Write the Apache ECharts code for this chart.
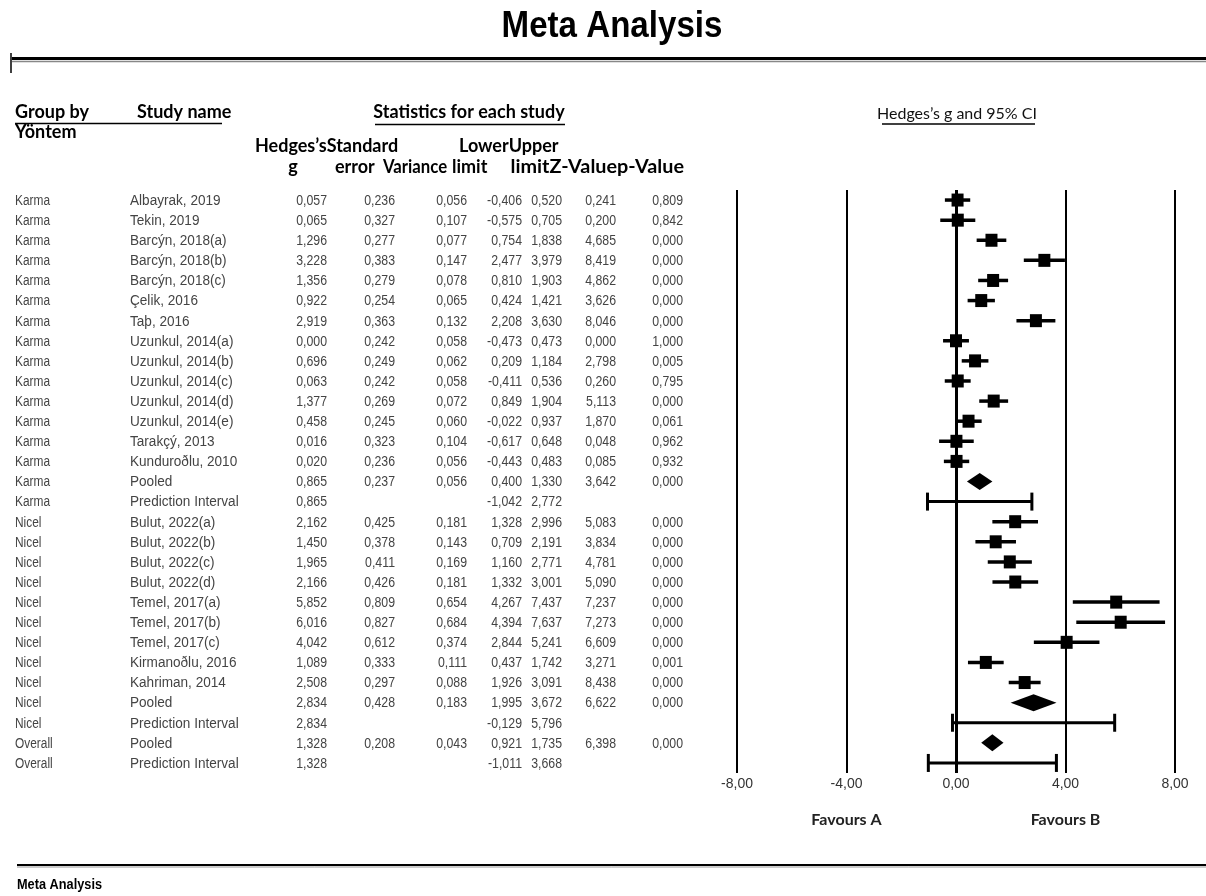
<!DOCTYPE html>
<html>
<head>
<meta charset="utf-8">
<script src="https://cdn.jsdelivr.net/npm/echarts@6/dist/echarts.min.js"></script>
<style>
html,body{margin:0;padding:0;background:#fff;}
#c{width:1206px;height:896px;}
</style>
</head>
<body>
<div id="c"></div>
<script>
// ---------------- DATA ----------------
const groups = ['Karma','Karma','Karma','Karma','Karma','Karma','Karma','Karma','Karma','Karma','Karma','Karma','Karma','Karma','Karma','Karma',
  'Nicel','Nicel','Nicel','Nicel','Nicel','Nicel','Nicel','Nicel','Nicel','Nicel','Nicel','Overall','Overall'];
const studies = ['Albayrak, 2019','Tekin, 2019','Barcýn, 2018(a)','Barcýn, 2018(b)','Barcýn, 2018(c)','Çelik, 2016','Taþ, 2016',
  'Uzunkul, 2014(a)','Uzunkul, 2014(b)','Uzunkul, 2014(c)','Uzunkul, 2014(d)','Uzunkul, 2014(e)','Tarakçý, 2013','Kunduroðlu, 2010',
  'Pooled','Prediction Interval',
  'Bulut, 2022(a)','Bulut, 2022(b)','Bulut, 2022(c)','Bulut, 2022(d)','Temel, 2017(a)','Temel, 2017(b)','Temel, 2017(c)',
  'Kirmanoðlu, 2016','Kahriman, 2014','Pooled','Prediction Interval','Pooled','Prediction Interval'];
const rowKind = ['study','study','study','study','study','study','study','study','study','study','study','study','study','study','pooled','pi',
  'study','study','study','study','study','study','study','study','study','pooled','pi','pooled','pi'];
const hedgesG   = [0.057,0.065,1.296,3.228,1.356,0.922,2.919,0.000,0.696,0.063,1.377,0.458,0.016,0.020,0.865,0.865,
  2.162,1.450,1.965,2.166,5.852,6.016,4.042,1.089,2.508,2.834,2.834,1.328,1.328];
const stdError  = [0.236,0.327,0.277,0.383,0.279,0.254,0.363,0.242,0.249,0.242,0.269,0.245,0.323,0.236,0.237,null,
  0.425,0.378,0.411,0.426,0.809,0.827,0.612,0.333,0.297,0.428,null,0.208,null];
const variance  = [0.056,0.107,0.077,0.147,0.078,0.065,0.132,0.058,0.062,0.058,0.072,0.060,0.104,0.056,0.056,null,
  0.181,0.143,0.169,0.181,0.654,0.684,0.374,0.111,0.088,0.183,null,0.043,null];
const lowerLimit= [-0.406,-0.575,0.754,2.477,0.810,0.424,2.208,-0.473,0.209,-0.411,0.849,-0.022,-0.617,-0.443,0.400,-1.042,
  1.328,0.709,1.160,1.332,4.267,4.394,2.844,0.437,1.926,1.995,-0.129,0.921,-1.011];
const upperLimit= [0.520,0.705,1.838,3.979,1.903,1.421,3.630,0.473,1.184,0.536,1.904,0.937,0.648,0.483,1.330,2.772,
  2.996,2.191,2.771,3.001,7.437,7.637,5.241,1.742,3.091,3.672,5.796,1.735,3.668];
const zValue    = [0.241,0.200,4.685,8.419,4.862,3.626,8.046,0.000,2.798,0.260,5.113,1.870,0.048,0.085,3.642,null,
  5.083,3.834,4.781,5.090,7.237,7.273,6.609,3.271,8.438,6.622,null,6.398,null];
const pValue    = [0.809,0.842,0.000,0.000,0.000,0.000,0.000,1.000,0.005,0.795,0.000,0.061,0.962,0.932,0.000,null,
  0.000,0.000,0.000,0.000,0.000,0.000,0.000,0.001,0.000,0.000,null,0.000,null];
const axisTicks = [-8,-4,0,4,8];
const favourLabels = ['Favours A','Favours B'];

// ---------------- LAYOUT / STYLE ----------------
const BODY_FONT = '14px "Liberation Sans", Arial, sans-serif';
const HEAD_FONT_FAMILY = 'Lato, Calibri, "Open Sans", sans-serif';
const fmt = v => v.toFixed(3).replace('.', ',');
const fmtAxis = v => v.toFixed(2).replace('.', ',');

const tableCols = [
  {arr: groups, x: 15, align: 'left', sx: 0.85},
  {arr: studies, x: 130, align: 'left', sx: 0.97},
  {arr: hedgesG, x: 327, align: 'right', sx: 0.88},
  {arr: stdError, x: 395, align: 'right', sx: 0.88},
  {arr: variance, x: 467, align: 'right', sx: 0.88},
  {arr: lowerLimit, x: 522, align: 'right', sx: 0.88},
  {arr: upperLimit, x: 562, align: 'right', sx: 0.88},
  {arr: zValue, x: 616, align: 'right', sx: 0.88},
  {arr: pValue, x: 683, align: 'right', sx: 0.88}
];

function txt(x, y, text, font, align, opts) {
  opts = opts || {};
  return {
    type: 'text', x: x, y: y, scaleX: opts.scaleX || 1, silent: true,
    style: {text: text, font: font, fill: opts.fill || '#000',
      textAlign: align, align: align, textVerticalAlign: 'middle', verticalAlign: 'middle'}
  };
}
function hline(x1, x2, y, w, color) {
  return {type: 'line', silent: true, shape: {x1: x1, y1: y, x2: x2, y2: y}, style: {stroke: color || '#000', lineWidth: w}};
}
function vline(x, y1, y2, w, color) {
  return {type: 'line', silent: true, shape: {x1: x, y1: y1, x2: x, y2: y2}, style: {stroke: color || '#000', lineWidth: w}};
}

const rowIdx = studies.map((_, i) => String(i));
const studyData = [], pooledData = [], piData = [], tableData = [];
for (let i = 0; i < studies.length; i++) {
  tableData.push([0, i]);
  const item = [hedgesG[i], i, lowerLimit[i], upperLimit[i]];
  if (rowKind[i] === 'study') studyData.push(item);
  else if (rowKind[i] === 'pooled') pooledData.push(item);
  else piData.push(item);
}

function renderStudy(params, api) {
  const i = api.value(1);
  const c = api.coord([api.value(0), i]);
  const lo = api.coord([api.value(2), i]);
  const hi = api.coord([api.value(3), i]);
  return {type: 'group', children: [
    {type: 'line', shape: {x1: lo[0], y1: c[1], x2: hi[0], y2: c[1]}, style: {stroke: '#000', lineWidth: 3.5}},
    {type: 'rect', shape: {x: c[0] - 6, y: c[1] - 6.5, width: 12, height: 13}, style: {fill: '#000'}}
  ]};
}
function renderPooled(params, api) {
  const i = api.value(1);
  const c = api.coord([api.value(0), i]);
  const lo = api.coord([api.value(2), i]);
  const hi = api.coord([api.value(3), i]);
  const h = 8.5;
  return {type: 'polygon', shape: {points: [[lo[0], c[1]], [c[0], c[1] - h], [hi[0], c[1]], [c[0], c[1] + h]]}, style: {fill: '#000'}};
}
function renderPI(params, api) {
  const i = api.value(1);
  const c = api.coord([api.value(0), i]);
  const lo = api.coord([api.value(2), i]);
  const hi = api.coord([api.value(3), i]);
  const h = 9;
  return {type: 'group', children: [
    {type: 'line', shape: {x1: lo[0], y1: c[1], x2: hi[0], y2: c[1]}, style: {stroke: '#000', lineWidth: 3}},
    {type: 'line', shape: {x1: lo[0], y1: c[1] - h, x2: lo[0], y2: c[1] + h}, style: {stroke: '#000', lineWidth: 3}},
    {type: 'line', shape: {x1: hi[0], y1: c[1] - h, x2: hi[0], y2: c[1] + h}, style: {stroke: '#000', lineWidth: 3}}
  ]};
}
function renderTable(params, api) {
  const i = api.value(1);
  const y = api.coord([0, i])[1] + 1;
  const children = [];
  tableCols.forEach(col => {
    const v = col.arr[i];
    if (v === null || v === undefined) return;
    const t = typeof v === 'number' ? fmt(v) : v;
    children.push({type: 'text', x: col.x, y: y, scaleX: col.sx,
      style: {text: t, font: BODY_FONT, fill: '#444', textAlign: col.align, align: col.align,
        textVerticalAlign: 'middle', verticalAlign: 'middle'}});
  });
  return {type: 'group', children: children};
}

const chart = echarts.init(document.getElementById('c'), null, {renderer: 'canvas'});
const GRID = {left: 737, right: 31, top: 190, height: 583};

const hb = s => 'bold ' + s + 'px ' + HEAD_FONT_FAMILY;
const graphics = [
  // title
  txt(612, 27, 'Meta Analysis', 'bold 36px "Liberation Sans", Arial, sans-serif', 'center', {scaleX: 0.92}),
  hline(12, 1206, 58.5, 3, '#000'),
  hline(12, 1206, 61.5, 1.5, '#888'),
  vline(11, 53, 73, 1.5, '#000'),
  // headers
  txt(15, 112, 'Group by', hb(18), 'left'),
  txt(137, 112, 'Study name', hb(18), 'left'),
  hline(15, 222, 123.5, 1.5, '#000'),
  txt(469, 112, 'Statistics for each study', hb(18), 'center'),
  hline(375, 565, 124.5, 1.5, '#000'),
  txt(957, 114, 'Hedges\u2019s g and 95% CI', '16px ' + HEAD_FONT_FAMILY, 'center', {fill: '#111'}),
  hline(882, 1035, 124, 1.5, '#000'),
  txt(15, 132, 'Yöntem', hb(18), 'left'),
  txt(255, 146, 'Hedges\u2019sStandard', hb(18), 'left'),
  txt(459, 146, 'LowerUpper', hb(18), 'left'),
  txt(293, 167, 'g', hb(18), 'center'),
  txt(335, 167, 'error', hb(18), 'left'),
  txt(383, 167, 'Variance', hb(18), 'left', {scaleX: 0.93}),
  txt(452, 167, 'limit', hb(18), 'left'),
  txt(684, 167, 'limitZ-Valuep-Value', hb(18), 'right', {scaleX: 1.1}),
  // footer
  hline(17, 1206, 865, 2, '#000'),
  hline(17, 1206, 867, 1, '#999'),
  txt(17, 885, 'Meta Analysis', 'bold 15px "Liberation Sans", Arial, sans-serif', 'left', {scaleX: 0.85})
];

chart.setOption({
  animation: false,
  backgroundColor: '#fff',
  grid: GRID,
  xAxis: {
    type: 'value', min: axisTicks[0], max: axisTicks[axisTicks.length - 1], interval: 4,
    axisLine: {show: false}, axisTick: {show: false},
    splitLine: {show: true, lineStyle: {color: '#000', width: 2}},
    axisLabel: {formatter: fmtAxis, margin: 4, color: '#333', fontSize: 14, fontFamily: '"Liberation Sans", Arial, sans-serif'}
  },
  yAxis: {type: 'category', data: rowIdx, inverse: true, show: false},
  series: [
    {type: 'custom', name: 'table', data: tableData, encode: {x: 0, y: 1}, renderItem: renderTable, clip: false, silent: true, z: 5},
    {type: 'custom', name: 'studies', data: studyData, encode: {x: [0, 2, 3], y: 1}, renderItem: renderStudy, silent: true, z: 10,
      markLine: {symbol: 'none', silent: true, label: {show: false},
        lineStyle: {color: '#000', width: 3, type: 'solid'}, data: [{xAxis: 0}]}},
    {type: 'custom', name: 'pooled', data: pooledData, encode: {x: [0, 2, 3], y: 1}, renderItem: renderPooled, silent: true, z: 10},
    {type: 'custom', name: 'pi', data: piData, encode: {x: [0, 2, 3], y: 1}, renderItem: renderPI, silent: true, z: 10}
  ],
  graphic: graphics
});

// favours labels under -4 and +4
const fa = chart.convertToPixel({xAxisIndex: 0}, -4);
const fb = chart.convertToPixel({xAxisIndex: 0}, 4);
chart.setOption({graphic: graphics.concat([
  txt(fa, 820, favourLabels[0], hb(16), 'center', {fill: '#222'}),
  txt(fb, 820, favourLabels[1], hb(16), 'center', {fill: '#222'})
])});
</script>
</body>
</html>
